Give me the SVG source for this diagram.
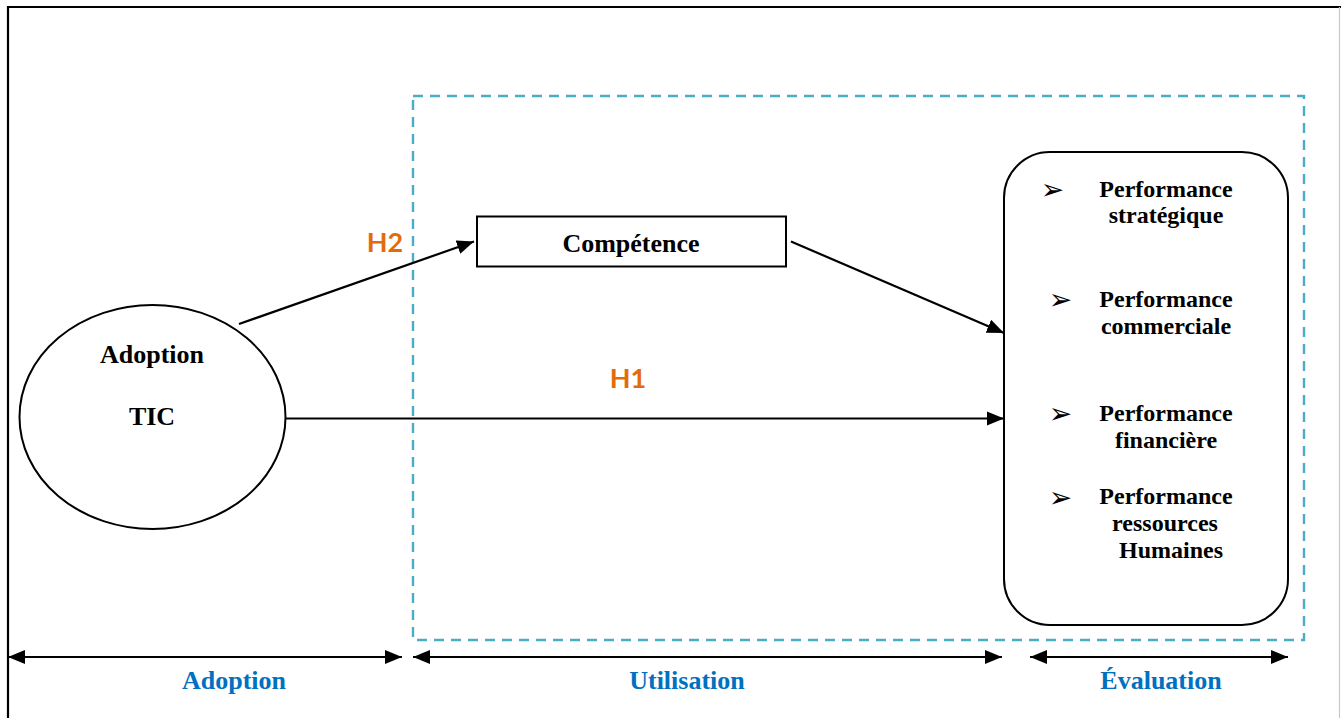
<svg xmlns="http://www.w3.org/2000/svg" width="1341" height="718" viewBox="0 0 1341 718">
  <style>
    .serif { font-family: "Liberation Serif", "Times New Roman", serif; font-weight: bold; fill: #000; text-anchor: middle; }
    .node-text { font-size: 26px; }
    .perf { font-size: 24px; }
    .phase { font-family: "Liberation Serif", "Times New Roman", serif; font-weight: bold; font-size: 26px; fill: #0070C0; text-anchor: middle; }
    .hyp { font-family: Lato, "Open Sans", sans-serif; font-weight: bold; font-size: 27px; fill: #E36C0A; text-anchor: middle; }
    .bullet { font-family: "DejaVu Sans", sans-serif; font-size: 28px; fill: #000; text-anchor: middle; }
    .edge { stroke: #000; stroke-width: 2.2; fill: none; }
    .shape { stroke: #000; stroke-width: 2; fill: #fff; }
  </style>
  <defs>
    <marker id="arrow" markerUnits="userSpaceOnUse" markerWidth="18" markerHeight="16" viewBox="0 0 18 16" refX="17" refY="8" orient="auto-start-reverse">
      <path d="M0,1 L17,8 L0,15 z" fill="#000"/>
    </marker>
  </defs>

  <rect width="1341" height="718" fill="#fff"/>

  <!-- frame -->
  <g id="frame">
    <line x1="8" y1="7" x2="1341" y2="7" stroke="#000" stroke-width="2.2"/>
    <line x1="8" y1="6" x2="8" y2="718" stroke="#000" stroke-width="2.2"/>
    <line x1="1339.5" y1="7" x2="1339.5" y2="718" stroke="#c8c8c8" stroke-width="1.2"/>
  </g>

  <!-- utilisation zone -->
  <g id="zone-utilisation">
    <rect x="413" y="96" width="891" height="544" fill="none" stroke="#4BACC6" stroke-width="2.4" stroke-dasharray="10,7"/>
  </g>

  <!-- connectors -->
  <g id="connectors">
    <line class="edge" x1="239" y1="324" x2="474" y2="241.5" marker-end="url(#arrow)"/>
    <line class="edge" x1="791" y1="241.5" x2="1004" y2="333" marker-end="url(#arrow)"/>
    <line class="edge" x1="286" y1="418.5" x2="1004" y2="418.5" marker-end="url(#arrow)"/>
    <line class="edge" x1="8" y1="657" x2="402" y2="657" marker-start="url(#arrow)" marker-end="url(#arrow)"/>
    <line class="edge" x1="413" y1="657" x2="1002" y2="657" marker-start="url(#arrow)" marker-end="url(#arrow)"/>
    <line class="edge" x1="1030" y1="657" x2="1288" y2="657" marker-start="url(#arrow)" marker-end="url(#arrow)"/>
  </g>

  <!-- hypotheses -->
  <g id="hypotheses">
    <text class="hyp" x="385" y="252">H2</text>
    <text class="hyp" x="628" y="388">H1</text>
  </g>

  <!-- adoption TIC -->
  <g id="node-adoption-tic">
    <ellipse class="shape" cx="152.5" cy="417" rx="133" ry="112"/>
    <text class="serif node-text" x="152" y="363">Adoption</text>
    <text class="serif node-text" x="152" y="425">TIC</text>
  </g>

  <!-- competence -->
  <g id="node-competence">
    <rect class="shape" x="477" y="216.5" width="309" height="50"/>
    <text class="serif node-text" x="631" y="251.5">Compétence</text>
  </g>

  <!-- performance -->
  <g id="node-performance">
    <rect class="shape" x="1004" y="152" width="284" height="473" rx="46" ry="46"/>
    <text class="bullet" x="1052.5" y="199">➢</text>
    <text class="serif perf" x="1166" y="197">Performance</text>
    <text class="serif perf" x="1166" y="223">stratégique</text>

    <text class="bullet" x="1060.5" y="309">➢</text>
    <text class="serif perf" x="1166" y="306.5">Performance</text>
    <text class="serif perf" x="1166" y="334">commerciale</text>

    <text class="bullet" x="1060.5" y="423">➢</text>
    <text class="serif perf" x="1166" y="420.5">Performance</text>
    <text class="serif perf" x="1166" y="448">financière</text>

    <text class="bullet" x="1060.5" y="507">➢</text>
    <text class="serif perf" x="1166" y="503.5">Performance</text>
    <text class="serif perf" x="1165" y="531">ressources</text>
    <text class="serif perf" x="1171" y="558">Humaines</text>
  </g>

  <!-- phases -->
  <g id="phases">
    <text class="phase" x="234" y="689">Adoption</text>
    <text class="phase" x="687" y="689">Utilisation</text>
    <text class="phase" x="1161" y="689">Évaluation</text>
  </g>
</svg>
